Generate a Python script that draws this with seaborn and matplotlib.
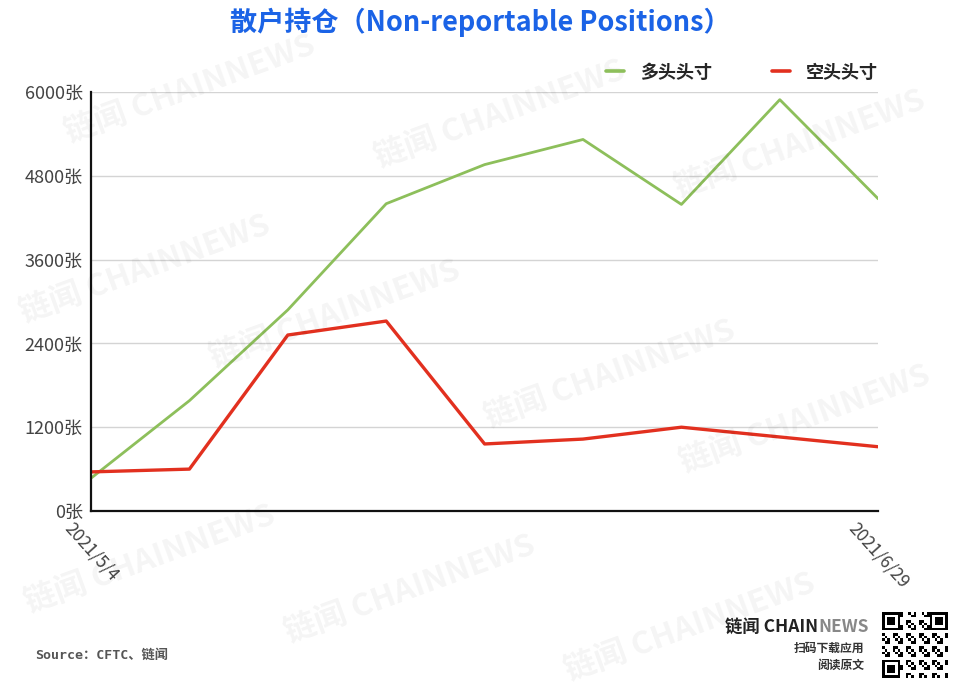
import numpy as np
import pandas as pd
import matplotlib
matplotlib.use("Agg")
import matplotlib.pyplot as plt
import seaborn as sns
from matplotlib.lines import Line2D

dates = ["2021/5/4", "2021/5/11", "2021/5/18", "2021/5/25", "2021/6/1",
         "2021/6/8", "2021/6/15", "2021/6/22", "2021/6/29"]
long_pos = [470, 1580, 2880, 4400, 4960, 5320, 4390, 5890, 4470]
short_pos = [560, 600, 2520, 2720, 960, 1030, 1200, 1060, 920]
series_names = ["多头头寸", "空头头寸"]
yticks = [0, 1200, 2400, 3600, 4800, 6000]

df = pd.DataFrame({
    "idx": list(range(len(dates))) * 2,
    "value": long_pos + short_pos,
    "series": [series_names[0]] * len(dates) + [series_names[1]] * len(dates),
})

sns.set_style("white")
plt.rcParams['font.family'] = ['Noto Sans CJK SC', 'DejaVu Sans']

fig = plt.figure(figsize=(9.6, 6.9), dpi=100)
ax = fig.add_axes([0.0948, 0.2594, 0.82, 0.6073])

# watermarks
wm_pos = [(190, 90), (500, 115), (800, 145), (145, 270), (335, 315),
          (610, 375), (805, 420), (150, 560), (410, 590), (690, 628)]
for (px, py) in wm_pos:
    fig.text(px / 960, 1 - py / 690, "链闻 CHAINNEWS", fontsize=23, fontweight="bold",
             color="#000000", alpha=0.045, rotation=20, ha="center", va="center", zorder=0)

sns.lineplot(data=df, x="idx", y="value", hue="series", ax=ax,
             palette={"多头头寸": "#8dbf5b", "空头头寸": "#e2301f"},
             legend=False, estimator=None)
ax.lines[0].set_linewidth(2.0)
ax.lines[1].set_linewidth(2.4)

ax.set_xlim(0, len(dates) - 1)
ax.set_ylim(0, 6000)
ax.set_yticks(yticks)
ax.set_yticklabels([f"{v}张" for v in yticks], color="#444444", fontsize=13)
ax.set_xticks([0, len(dates) - 1])
ax.set_xticklabels([dates[0], dates[-1]], rotation=-48, ha="center", va="top",
                   color="#444444", fontsize=12.5)
ax.tick_params(axis="both", length=0, pad=6)
ax.grid(axis="y", color="#d4d4d4", linewidth=1)
ax.set_axisbelow(True)
ax.set_xlabel("")
ax.set_ylabel("")
for s in ["top", "right"]:
    ax.spines[s].set_visible(False)
for s in ["left", "bottom"]:
    ax.spines[s].set_color("#111111")
    ax.spines[s].set_linewidth(1.6)
ax.patch.set_alpha(0)

# legend
handles = [Line2D([], [], color="#8dbf5b", lw=2.6), Line2D([], [], color="#e2301f", lw=2.6)]
fig.legend(handles, series_names, loc="center", bbox_to_anchor=(742 / 960, 1 - 72 / 690),
           ncol=2, frameon=False, handlelength=1.0, handletextpad=0.9, columnspacing=3.3,
           prop={"weight": "bold", "size": 13})

fig.text(0.5, 1 - 22 / 690, "散户持仓（Non-reportable Positions）", ha="center", va="center",
         fontsize=19.5, fontweight="bold", color="#1b63e6")

fig.text(35 / 960, 1 - 655 / 690, "Source：CFTC、链闻", ha="left", va="center",
         fontsize=9.5, color="#555555", fontweight="bold", family=["DejaVu Sans Mono", "Noto Sans CJK SC"])

# brand block
fig.text(818 / 960, 1 - 627 / 690, "链闻 CHAIN", ha="right", va="center",
         fontsize=12.5, fontweight="bold", color="#222222")
fig.text(818 / 960, 1 - 627 / 690, "NEWS", ha="left", va="center",
         fontsize=12.5, fontweight="bold", color="#888888")
fig.text(864 / 960, 1 - 648 / 690, "扫码下载应用", ha="right", va="center",
         fontsize=8.5, fontweight="bold", color="#333333")
fig.text(864 / 960, 1 - 665 / 690, "阅读原文", ha="right", va="center",
         fontsize=8.5, fontweight="bold", color="#333333")

# qr-like block
qax = fig.add_axes([882 / 960, 1 - 678 / 690, 66 / 960, 66 / 690])
n = 25
grid = np.zeros((n, n))
for i in range(n):
    for j in range(n):
        grid[i, j] = 1 if ((i * 7 + j * 3 + i * j) % 5) < 2 else 0
for (r, c) in [(0, 0), (0, n - 7), (n - 7, 0)]:
    grid[r:r + 7, c:c + 7] = 1
    grid[r + 1:r + 6, c + 1:c + 6] = 0
    grid[r + 2:r + 5, c + 2:c + 5] = 1
qax.imshow(grid, cmap="Greys", interpolation="nearest")
qax.axis("off")

fig.savefig("out.png", dpi=100, facecolor="white")
